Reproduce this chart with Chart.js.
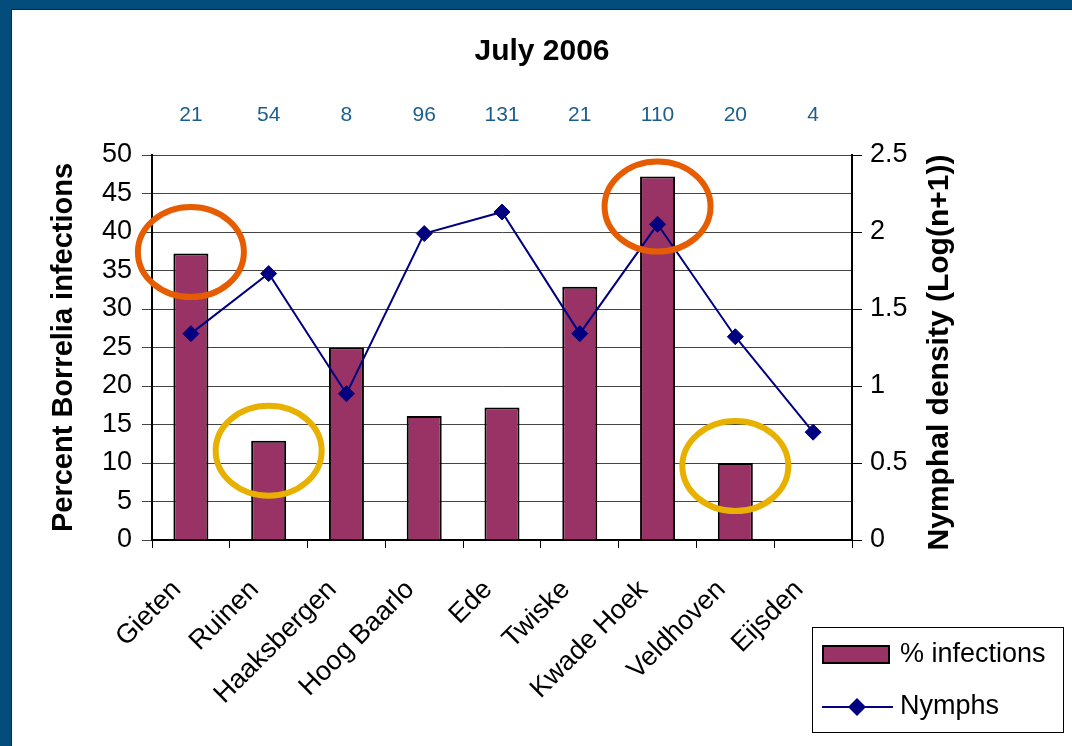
<!DOCTYPE html>
<html>
<head>
<meta charset="utf-8">
<title>July 2006</title>
<script src="https://cdn.jsdelivr.net/npm/chart.js@4.4.1/dist/chart.umd.min.js"></script>
<style>
  html, body { margin: 0; padding: 0; }
  body { width: 1072px; height: 746px; background: #034d7c; overflow: hidden; position: relative; }
  #frame { position: absolute; left: 11px; top: 9px; right: 0; bottom: 0; background: #fff;
           border-left: 1px solid #222; border-top: 1px solid #222; }
  #wrap { position: absolute; left: 0; top: 0; width: 1060px; height: 736px; }
</style>
</head>
<body>
<div id="frame"><div id="wrap"><canvas id="chart"></canvas></div></div>
<script>
// sites along the x axis
const sites = ['Gieten', 'Ruinen', 'Haaksbergen', 'Hoog Baarlo', 'Ede', 'Twiske', 'Kwade Hoek', 'Veldhoven', 'Eijsden'];
// % Borrelia infections (left axis), Eijsden has no bar
const infections = [37.2, 12.9, 25.0, 16.1, 17.2, 32.9, 47.2, 10.0, null];
// nymphal density Log(n+1) (right axis)
const nymphs = [1.34, 1.73, 0.95, 1.99, 2.13, 1.34, 2.05, 1.32, 0.70];
// number of nymphs, printed above the plot
const nymphCounts = [21, 54, 8, 96, 131, 21, 110, 20, 4];
// highlighted sites (circled), level on the left axis
const ringSites = ['Gieten', 'Kwade Hoek', 'Ruinen', 'Veldhoven'];
const ringLevels = [37.4, 43.3, 11.6, 9.6];
const ringColors = ['#e65c00', '#e65c00', '#e8b100', '#e8b100'];

const FONT = "Arial, 'Liberation Sans', sans-serif";
const BAR = '#993366';
const NAVY = '#000080';

// extra bits Excel had: circles, counts, right title, boxed legend
const extras = {
  id: 'extras',
  afterDatasetsDraw(chart) {
    const {ctx, scales: {x, y}} = chart;
    ctx.save();
    ctx.lineWidth = 6;
    ringSites.forEach((s, i) => {
      ctx.strokeStyle = ringColors[i];
      ctx.beginPath();
      ctx.ellipse(x.getPixelForValue(sites.indexOf(s)), y.getPixelForValue(ringLevels[i]), 53, 45, 0, 0, Math.PI * 2);
      ctx.stroke();
    });
    ctx.restore();
  },
  afterDraw(chart) {
    const {ctx, chartArea, scales: {x}} = chart;
    ctx.save();

    // nymph counts
    ctx.fillStyle = '#1b5e8e';
    ctx.font = '21px ' + FONT;
    ctx.textAlign = 'center';
    ctx.textBaseline = 'middle';
    nymphCounts.forEach((n, i) => {
      ctx.fillText(String(n), x.getPixelForValue(i), chartArea.top - 40);
    });

    // right axis title, reads bottom to top
    ctx.fillStyle = '#000';
    ctx.font = 'bold 30px ' + FONT;
    ctx.translate(chartArea.right + 88, (chartArea.top + chartArea.bottom) / 2 + 5);
    ctx.rotate(-Math.PI / 2);
    ctx.fillText('Nymphal density (Log(n+1))', 0, 0);
    ctx.setTransform(1, 0, 0, 1, 0, 0);

    // legend box
    const lx = 800, ly = 617;
    ctx.strokeStyle = '#000';
    ctx.lineWidth = 1;
    ctx.strokeRect(lx + 0.5, ly + 0.5, 251, 105);
    ctx.fillStyle = BAR;
    ctx.lineWidth = 2;
    ctx.fillRect(lx + 11, ly + 19, 66, 17);
    ctx.strokeRect(lx + 11, ly + 19, 66, 17);
    ctx.strokeStyle = NAVY;
    ctx.beginPath();
    ctx.moveTo(lx + 10, ly + 80);
    ctx.lineTo(lx + 81, ly + 80);
    ctx.stroke();
    ctx.fillStyle = NAVY;
    ctx.beginPath();
    ctx.moveTo(lx + 45, ly + 71);
    ctx.lineTo(lx + 54, ly + 80);
    ctx.lineTo(lx + 45, ly + 89);
    ctx.lineTo(lx + 36, ly + 80);
    ctx.closePath();
    ctx.fill();
    ctx.fillStyle = '#000';
    ctx.font = '27px ' + FONT;
    ctx.textAlign = 'left';
    ctx.fillText('% infections', lx + 88, ly + 28);
    ctx.fillText('Nymphs', lx + 88, ly + 80);
    ctx.restore();
  }
};

new Chart(document.getElementById('chart'), {
  type: 'bar',
  data: {
    labels: sites,
    datasets: [{
      type: 'line',
      label: 'Nymphs',
      data: nymphs,
      yAxisID: 'y2',
      borderColor: NAVY,
      borderWidth: 2,
      pointStyle: 'rectRot',
      pointRadius: 8,
      pointBorderWidth: 1,
      pointBackgroundColor: NAVY,
      pointBorderColor: NAVY,
      tension: 0
    }, {
      label: '% infections',
      data: infections,
      yAxisID: 'y',
      backgroundColor: BAR,
      borderColor: '#000',
      borderWidth: 2,
      categoryPercentage: 1,
      barPercentage: 0.45
    }]
  },
  options: {
    responsive: true,
    maintainAspectRatio: false,
    animation: false,
    layout: { padding: 0 },
    plugins: {
      legend: { display: false },
      tooltip: { enabled: false },
      title: {
        display: true,
        text: 'July 2006',
        color: '#000',
        font: { family: FONT, size: 30, weight: 'bold' },
        padding: { top: 24, bottom: 85 }
      }
    },
    scales: {
      x: {
        afterFit(s) { s.height = 206; },
        grid: { display: true, drawOnChartArea: false, drawTicks: true, tickLength: 8, color: '#000', offset: true },
        border: { color: '#000', width: 2 },
        ticks: { color: '#000', font: { family: FONT, size: 27 }, minRotation: 45, maxRotation: 45,
                 padding: 26, labelOffset: -14 }
      },
      y: {
        position: 'left',
        min: 0, max: 50,
        afterFit(s) { s.width = 140; },
        grid: { color: '#444', lineWidth: 1, tickLength: 10 },
        border: { color: '#000', width: 2 },
        ticks: { stepSize: 5, color: '#000', font: { family: FONT, size: 27 }, padding: 10 },
        title: {
          display: true,
          text: 'Percent Borrelia infections',
          color: '#000',
          font: { family: FONT, size: 29, weight: 'bold' },
          padding: { top: 35, bottom: 0 }
        }
      },
      y2: {
        position: 'right',
        min: 0, max: 2.5,
        afterFit(s) { s.width = 220; },
        grid: { drawOnChartArea: false, color: '#000', tickLength: 10 },
        border: { color: '#000', width: 2 },
        ticks: { stepSize: 0.5, color: '#000', font: { family: FONT, size: 27 }, padding: 8,
                 callback: v => String(v) }
      }
    }
  },
  plugins: [extras]
});
</script>
</body>
</html>
